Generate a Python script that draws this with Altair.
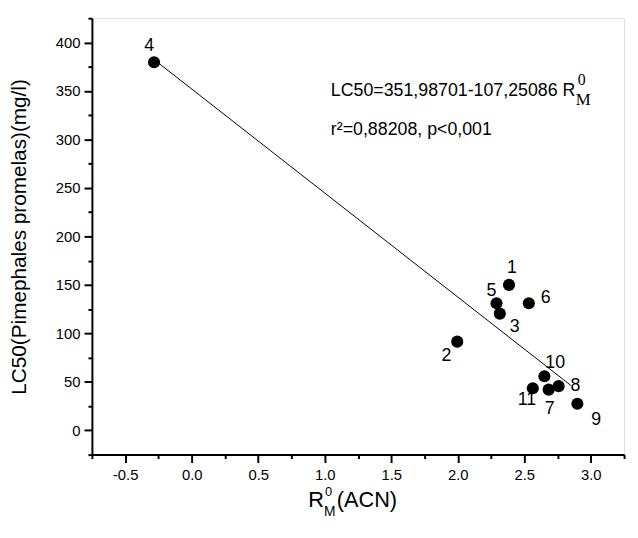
import altair as alt
import pandas as pd

# ---- data ----
labels = ["1", "2", "3", "4", "5", "6", "7", "8", "9", "10", "11"]
rm0 = [2.385, 1.996, 2.316, -0.283, 2.291, 2.534, 2.683, 2.758, 2.899, 2.651, 2.564]
lc50 = [150.0, 91.5, 120.4, 379.6, 131.0, 131.0, 42.0, 45.6, 27.5, 55.8, 43.5]

intercept = 351.98701
slope = -107.25086
fit_x = [-0.283, 2.85]
fit_y = [intercept + slope * v for v in fit_x]

x_major = [-0.5, 0.0, 0.5, 1.0, 1.5, 2.0, 2.5, 3.0]
x_minor = [-0.75, -0.25, 0.25, 0.75, 1.25, 1.75, 2.25, 2.75, 3.25]
y_major = [0, 50, 100, 150, 200, 250, 300, 350, 400]
y_minor = [-25, 25, 75, 125, 175, 225, 275, 325, 375, 425]

# label offsets (pixels) for the point numbers
label_offsets = {
    "1": (3, -17), "2": (-11, 15), "3": (15, 14), "4": (-5, -16),
    "5": (-5, -12), "6": (17, -5), "7": (1, 20), "8": (17, 0),
    "9": (19, 17), "10": (11, -13), "11": (-6, 12),
}

df = pd.DataFrame({"label": labels, "x": rm0, "y": lc50})
fit = pd.DataFrame({"x": fit_x, "y": fit_y})

FONT = "Liberation Sans"
SERIF = "Liberation Serif"
W, H = 539, 442

xscale = alt.Scale(domain=[-0.75, 3.25], nice=False, zero=False)
yscale = alt.Scale(domain=[-25, 425], nice=False, zero=False)

common = dict(grid=False, domainColor="black", domainWidth=2, tickColor="black",
              tickWidth=2, labelColor="black", labelFont=FONT, labelFontSize=15,
              labelFlush=False, labelOverlap=False)

xaxis_major = alt.Axis(values=x_major, title=None, orient="bottom", format=".1f",
                       labelExpr="replace(datum.label, '\u2212', '-')",
                       tickSize=8, labelPadding=5, **common)
yaxis_major = alt.Axis(values=y_major, title="LC50(Pimephales promelas)(mg/l)",
                       orient="left", format="d", tickSize=8, labelPadding=4,
                       titleFont=FONT, titleFontSize=21, titleFontWeight="normal",
                       titleColor="black", titlePadding=26, **common)
xaxis_minor = alt.Axis(values=x_minor, title=None, orient="bottom", labels=False,
                       domain=False, tickSize=4, grid=False, tickColor="black",
                       tickWidth=2)
yaxis_minor = alt.Axis(values=y_minor, title=None, orient="left", labels=False,
                       domain=False, tickSize=4, grid=False, tickColor="black",
                       tickWidth=2)

base = alt.Chart(df)

points = base.mark_circle(size=150, color="black", opacity=1).encode(
    x=alt.X("x:Q", scale=xscale, axis=xaxis_major),
    y=alt.Y("y:Q", scale=yscale, axis=yaxis_major),
)

line = alt.Chart(fit).mark_line(color="black", strokeWidth=1).encode(
    x=alt.X("x:Q", scale=xscale, axis=xaxis_minor),
    y=alt.Y("y:Q", scale=yscale, axis=yaxis_minor),
)

label_layers = []
for lab in labels:
    dx, dy = label_offsets[lab]
    label_layers.append(
        base.transform_filter(alt.datum.label == lab)
        .mark_text(font=FONT, fontSize=18, color="black", dx=dx, dy=dy,
                   align="center", baseline="middle")
        .encode(x=alt.X("x:Q", scale=xscale, axis=None),
                y=alt.Y("y:Q", scale=yscale, axis=None),
                text="label:N")
    )

# annotation text (pixel positions relative to the plot origin)
ox, oy = 93, 15


def txt(s, x, y, size, font=FONT, align="left"):
    return alt.Chart(pd.DataFrame({"t": [s]})).mark_text(
        font=font, fontSize=size, color="black", align=align, baseline="alphabetic"
    ).encode(x=alt.value(x - ox), y=alt.value(y - oy), text="t:N")


ann = [
    txt("LC50=351,98701-107,25086 R", 335, 94, 18),
    txt("0", 585, 83, 16, font=SERIF),
    txt("M", 583, 103, 17, font=SERIF),
    txt("r\u00b2=0,88208, p<0,001", 335, 133, 18),
    txt("R", 312, 510, 22),
    txt("0", 329, 499, 13),
    txt("M", 328, 519, 14),
    txt("(ACN)", 341, 510, 22),
]

chart = alt.layer(line, points, *label_layers, *ann).resolve_axis(
    x="independent", y="independent"
).properties(
    width=W, height=H,
    autosize=alt.AutoSizeParams(type="none"),
    padding={"left": 85, "top": 7, "right": 6, "bottom": 72},
).configure_view(stroke=None).configure(background="white")

chart.save("out.html", embed_options={"renderer": "svg", "actions": False})
